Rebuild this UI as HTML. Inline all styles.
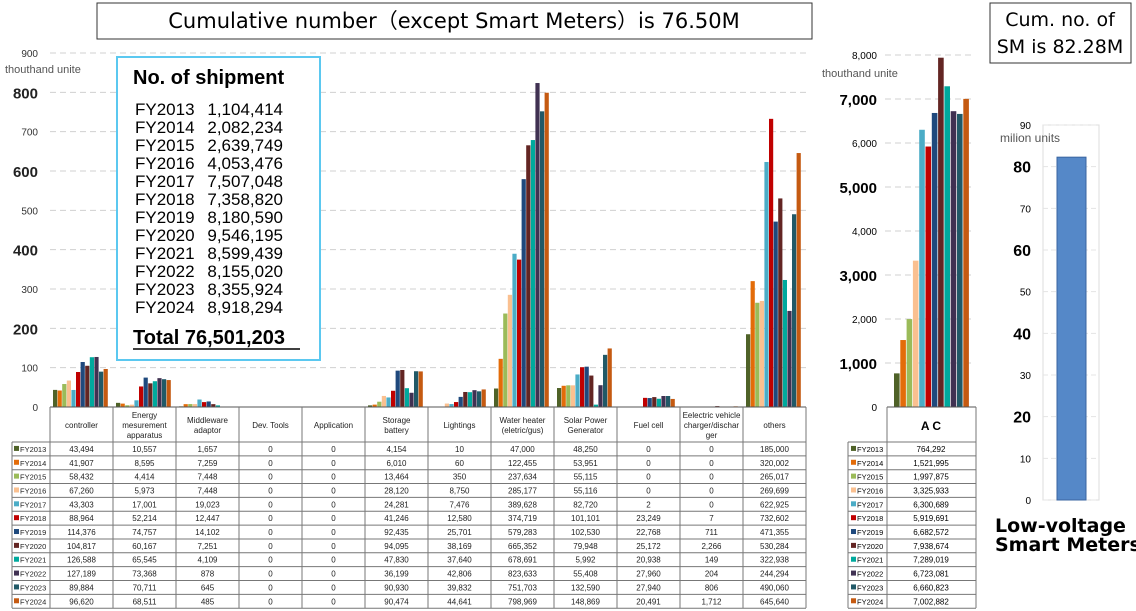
<!DOCTYPE html>
<html><head><meta charset="utf-8"><style>
html,body{margin:0;padding:0;background:#fff;}
svg{display:block;font-family:"Liberation Sans",sans-serif;}
</style></head><body>
<svg id="chart" width="1136" height="611" viewBox="0 0 1136 611" xmlns="http://www.w3.org/2000/svg">
<rect x="97" y="3" width="715" height="36" fill="#fff" stroke="#333"/>
<text x="454" y="28" font-size="21" text-anchor="middle" font-family="DejaVu Sans, sans-serif">Cumulative number（except Smart Meters）is 76.50M</text>
<rect x="990" y="3" width="141" height="60" fill="#fff" stroke="#333"/>
<text x="1060" y="26" font-size="19" text-anchor="middle" font-family="DejaVu Sans, sans-serif">Cum. no. of</text>
<text x="1060" y="53" font-size="19" text-anchor="middle" font-family="DejaVu Sans, sans-serif">SM is 82.28M</text>
<text x="5" y="73" font-size="11" fill="#555">thouthand unite</text>
<text x="822" y="77" font-size="11" fill="#555">thouthand unite</text>
<g id="main"></g><g id="ac"></g><g id="sm"></g>
<rect x="117" y="57" width="203" height="303" fill="#fff" stroke="#5bc8f0" stroke-width="2"/>
<text x="133" y="84" font-size="20" font-weight="bold">No. of shipment</text>
<g id="ship" font-size="17"></g>
<text x="133" y="344" font-size="20" font-weight="bold">Total  76,501,203</text>
<line x1="133" y1="349" x2="300" y2="349" stroke="#000" stroke-width="1.5"/>
<text x="995" y="532" font-size="19" font-weight="bold" font-family="DejaVu Sans, sans-serif">Low-voltage</text>
<text x="995" y="551" font-size="19" font-weight="bold" font-family="DejaVu Sans, sans-serif">Smart Meters</text>
</svg>
<script>
const years=["FY2013","FY2014","FY2015","FY2016","FY2017","FY2018","FY2019","FY2020","FY2021","FY2022","FY2023","FY2024"];
const colors=["#4f6228","#e36c09","#9bbb59","#fac090","#4bacc6","#c00000","#1f497d","#632523","#00a99d","#403152","#215967","#c55a11"];
const categories=["controller","Energy|mesurement|apparatus","Middleware|adaptor","Dev. Tools","Application","Storage|battery","Lightings","Water heater|(eletric/gus)","Solar Power|Generator","Fuel cell","Eelectric vehicle|charger/dischar|ger","others"];
const controller=[43494,41907,58432,67260,43303,88964,114376,104817,126588,127189,89884,96620];
const energyMeas=[10557,8595,4414,5973,17001,52214,74757,60167,65545,73368,70711,68511];
const middleware=[1657,7259,7448,7448,19023,12447,14102,7251,4109,878,645,485];
const devTools=[0,0,0,0,0,0,0,0,0,0,0,0];
const application=[0,0,0,0,0,0,0,0,0,0,0,0];
const storage=[4154,6010,13464,28120,24281,41246,92435,94095,47830,36199,90930,90474];
const lightings=[10,60,350,8750,7476,12580,25701,38169,37640,42806,39832,44641];
const waterHeater=[47000,122455,237634,285177,389628,374719,579283,665352,678691,823633,751703,798969];
const solar=[48250,53951,55115,55116,82720,101101,102530,79948,5992,55408,132590,148869];
const fuelCell=[0,0,0,0,2,23249,22768,25172,20938,27960,27940,20491];
const evCharger=[0,0,0,0,0,7,711,2266,149,204,806,1712];
const others=[185000,320002,265017,269699,622925,732602,471355,530284,322938,244294,490060,645640];
const acValues=[764292,1521995,1997875,3325933,6300689,5919691,6682572,7938674,7289019,6723081,6660823,7002882];
const shipments=[1104414,2082234,2639749,4053476,7507048,7358820,8180590,9546195,8599439,8155020,8355924,8918294];
const smTotal=82.28;
const mainTicks=[0,100,200,300,400,500,600,700,800,900];
const acTicks=[0,1000,2000,3000,4000,5000,6000,7000,8000];
const smTicks=[0,10,20,30,40,50,60,70,80,90];
const series=[controller,energyMeas,middleware,devTools,application,storage,lightings,waterHeater,solar,fuelCell,evCharger,others];

const NS="http://www.w3.org/2000/svg";
function mk(tag,attrs,parent,txt){const e=document.createElementNS(NS,tag);for(const k in attrs)e.setAttribute(k,attrs[k]);if(txt!==undefined)e.textContent=txt;parent.appendChild(e);return e;}
const fmt=n=>n.toLocaleString("en-US");

// main chart
const main=document.getElementById("main");
const yMain=v=>407-v*(354/900);
const colX=i=>50+i*63, colW=63;
mainTicks.forEach((t,i)=>{
  const y=yMain(t);
  if(t>0){const g=mk("line",{x1:50,x2:810,y1:y,y2:y,stroke:"#d0d0d0","stroke-dasharray":"6,4"},main);
  
  }
  const big=(t%200===0&&t>0);
  const tx=mk("text",{x:38,y:y+(big?6:4),"font-size":big?15:10,"font-weight":big?"bold":"normal","text-anchor":"end",fill:big?"#222":"#333"},main,String(t));
  
  
});
series.forEach((arr,ci)=>{
  arr.forEach((v,yi)=>{
    const h=407-yMain(v/1000);
    if(h<=0)return;
    const r=mk("rect",{x:colX(ci)+3+yi*4.6,y:407-h,width:4.2,height:h,fill:colors[yi]},main);
    
    
  });
});
// table
const tb=mk("g",{"font-size":"8","fill":"#222"},main);
const rowTop=442, rowH=13.85;
mk("line",{x1:50,x2:806,y1:407,y2:407,stroke:"#555"},tb);
for(let c=0;c<=12;c++){mk("line",{x1:colX(c),x2:colX(c),y1:407,y2:608,stroke:"#777"},tb);}
mk("line",{x1:12,x2:12,y1:rowTop,y2:608,stroke:"#777"},tb);
for(let r=0;r<=12;r++){mk("line",{x1:12,x2:806,y1:rowTop+r*rowH,y2:rowTop+r*rowH,stroke:"#777"},tb);}
categories.forEach((c,ci)=>{
  const lines=c.split("|");const cx=colX(ci)+colW/2;
  lines.forEach((l,li)=>{const t=mk("text",{x:cx,y:425+(li-(lines.length-1)/2)*10+3,"text-anchor":"middle","font-size":"8"},tb,l);
  
  });
});
years.forEach((yr,yi)=>{
  const y=rowTop+yi*rowH+rowH/2+3;
  mk("rect",{x:14,y:y-6,width:5,height:5,fill:colors[yi]},tb);
  const lt=mk("text",{x:20,y:y,"font-size":"7.5"},tb,yr);
  
  
  series.forEach((arr,ci)=>{const t=mk("text",{x:colX(ci)+colW/2,y:y,"text-anchor":"middle","font-size":"8"},tb,fmt(arr[yi]));
  
  });
});

// AC chart
const ac=document.getElementById("ac");
const yAc=v=>407-v*(44/1000);
acTicks.forEach(t=>{
  const y=yAc(t);
  if(t>0){const g=mk("line",{x1:885,x2:975,y1:y,y2:y,stroke:"#d0d0d0","stroke-dasharray":"6,4"},ac);
  
  }
  const big=(t%2000===1000);
  const tx=mk("text",{x:877,y:y+(big?6:4),"font-size":big?15:10,"font-weight":big?"bold":"normal","text-anchor":"end"},ac,fmt(t));
  
  
});
acValues.forEach((v,i)=>{
  const y=yAc(v/1000);
  const r=mk("rect",{x:894+i*6.3,y:y,width:5.6,height:407-y,fill:colors[i]},ac);
  
  
});
mk("line",{x1:887,x2:976,y1:407,y2:407,stroke:"#555"},ac);
mk("line",{x1:887,x2:887,y1:407,y2:608,stroke:"#777"},ac);
mk("line",{x1:976,x2:976,y1:407,y2:608,stroke:"#777"},ac);
mk("line",{x1:848,x2:848,y1:442,y2:608,stroke:"#777"},ac);
const ach=mk("text",{x:931,y:430,"font-size":"12","font-weight":"bold","text-anchor":"middle"},ac,"A C");


for(let r=0;r<=12;r++){mk("line",{x1:848,x2:976,y1:rowTop+r*rowH,y2:rowTop+r*rowH,stroke:"#777"},ac);}
years.forEach((yr,yi)=>{
  const y=rowTop+yi*rowH+rowH/2+3;
  mk("rect",{x:851,y:y-6,width:5,height:5,fill:colors[yi]},ac);
  const lt=mk("text",{x:857,y:y,"font-size":"7.5"},ac,yr);
  
  
  const t=mk("text",{x:931,y:y,"font-size":"8","text-anchor":"middle"},ac,fmt(acValues[yi]));
  
  
});

// SM chart
const sm=document.getElementById("sm");
const ySm=v=>500-v*(375/90);
mk("rect",{x:1043,y:125,width:56,height:375,fill:"none",stroke:"#ddd"},sm);
smTicks.forEach(t=>{
  const y=ySm(t);
  const g=mk("line",{x1:1043,x2:1099,y1:y,y2:y,stroke:"#e4e4e4","stroke-dasharray":"5,3"},sm);
  
  
  const big=(t%20===0&&t>0);
  const tx=mk("text",{x:1031,y:y+(big?6:4),"font-size":big?16:10,"font-weight":big?"bold":"normal","text-anchor":"end"},sm,String(t));
  
  
});
const smt=mk("text",{x:1000,y:142,"font-size":"12",fill:"#555"},sm,"milion units");


const sb=mk("rect",{x:1057,y:ySm(smTotal),width:29,height:500-ySm(smTotal),fill:"#5588c8",stroke:"#3a64a0"},sm);



// shipment list
const sh=document.getElementById("ship");
years.forEach((yr,i)=>{
  const y=115+i*18;
  const a=mk("text",{x:135,y:y},sh,yr);
  
  
  const b=mk("text",{x:283,y:y,"text-anchor":"end"},sh,fmt(shipments[i]));
  
  
});
</script>
</body></html>
